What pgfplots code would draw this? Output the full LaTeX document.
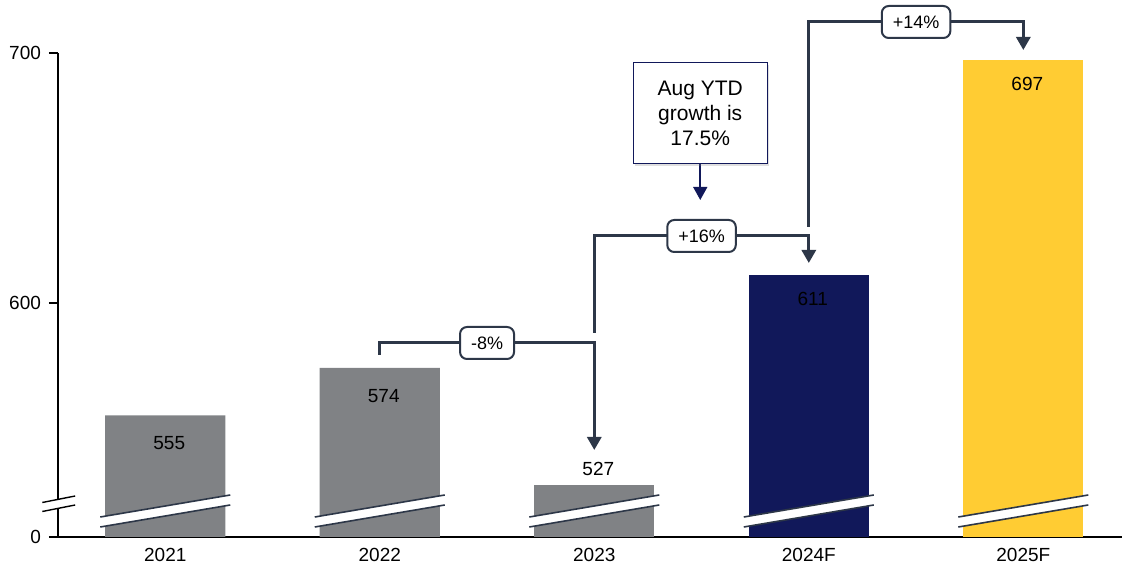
\documentclass[border=0pt]{standalone}
\usepackage{pgfplots}
\pgfplotsset{compat=1.18}
\usepackage{fontspec}
\setmainfont{Liberation Sans}
\usetikzlibrary{calc,arrows.meta,shadows}
\definecolor{bargray}{HTML}{808285}
\definecolor{navy}{HTML}{11185A}
\definecolor{gold}{HTML}{FFCC33}
\definecolor{conn}{HTML}{2D3748}
\definecolor{breakc}{HTML}{2D3748}
\begin{document}
\begin{tikzpicture}[font=\fontsize{9}{11}\selectfont]
\begin{axis}[
  scale only axis, width=532pt, height=242pt,
  xmin=-0.5, xmax=4.46, ymin=506.4, ymax=700,
  axis x line*=bottom, axis y line*=left,
  x axis line style={black, line width=1.1pt},
  y axis line style={draw=none},
  clip mode=individual,
  ybar, bar width=0.56,
  xtick={0,1,2,3,4}, xticklabels={2021,2022,2023,2024F,2025F},
  x tick style={draw=none},
  ytick={506.4,600,700}, yticklabels={0,600,700},
  y tick style={black, line width=0.8pt},
  tick align=outside, major tick length=4.5pt,
  tick label style={font=\fontsize{9.5}{11}\selectfont},
  xticklabel style={yshift=2.5pt},
  yticklabel style={xshift=-0.5pt},
  /pgf/number format/assume math mode=true,
  nodes near coords,
  nodes near coords style={anchor=center, xshift=2pt, font=\fontsize{9.5}{11}\selectfont},
]
% bars
\addplot[fill=bargray, draw=none, bar shift=0pt,
  every node near coord/.append style={yshift=-14pt}] coordinates {(0,555) (1,574)};
\addplot[fill=bargray, draw=none, bar shift=0pt,
  every node near coord/.append style={yshift=8.5pt}] coordinates {(2,527)};
\addplot[fill=navy, draw=none, bar shift=0pt,
  every node near coord/.append style={yshift=-11.5pt}] coordinates {(3,611)};
\addplot[fill=gold, draw=none, bar shift=0pt,
  every node near coord/.append style={yshift=-11.5pt}] coordinates {(4,697)};

% bar break marks
\pgfplotsinvokeforeach{0,1,2,3,4}{
  \fill[white] (axis cs:#1-0.303,514.4) -- (axis cs:#1+0.303,523.2) -- (axis cs:#1+0.303,519.2) -- (axis cs:#1-0.303,510.4) -- cycle;
  \draw[breakc, line width=0.8pt] (axis cs:#1-0.303,514.4) -- (axis cs:#1+0.303,523.2);
  \draw[breakc, line width=0.8pt] (axis cs:#1-0.303,510.4) -- (axis cs:#1+0.303,519.2);
}

% y axis line with break
\draw[black, line width=0.9pt] (axis cs:-0.5,506.4) -- (axis cs:-0.5,517.9);
\draw[black, line width=0.9pt] (axis cs:-0.5,521.2) -- (axis cs:-0.5,700);
\draw[black, line width=0.7pt] (axis cs:-0.573,516.6) -- (axis cs:-0.42,519.2);
\draw[black, line width=0.7pt] (axis cs:-0.573,520.2) -- (axis cs:-0.42,522.8);

% connectors
\draw[conn, line width=1.5pt, -{Triangle[width=7pt,length=6.5pt]}]
  (axis cs:1,579.2) -- (axis cs:1,584) -- (axis cs:2,584) -- (axis cs:2,541.2);
\node[draw=conn, line width=1pt, rounded corners=3.5pt, fill=white, inner xsep=5.5pt, minimum height=16pt]
  at (axis cs:1.5,584) {-8\%};

\draw[conn, line width=1.5pt, -{Triangle[width=7pt,length=6.5pt]}]
  (axis cs:2,588) -- (axis cs:2,626.8) -- (axis cs:3,626.8) -- (axis cs:3,616);
\node[draw=conn, line width=1pt, rounded corners=3.5pt, fill=white, inner xsep=5.5pt, minimum height=16pt]
  at (axis cs:2.5,626.8) {+16\%};

\draw[conn, line width=1.5pt, -{Triangle[width=7pt,length=6.5pt]}]
  (axis cs:3,630.4) -- (axis cs:3,712.4) -- (axis cs:4,712.4) -- (axis cs:4,701.2);
\node[draw=conn, line width=1pt, rounded corners=3.5pt, fill=white, inner xsep=5.5pt, minimum height=16pt]
  at (axis cs:3.5,712.4) {+14\%};

% Aug YTD note
\draw[navy, line width=0.8pt, -{Triangle[width=7pt,length=6.5pt]}]
  (axis cs:2.494,655.6) -- (axis cs:2.494,641.2);
\node[draw=navy, line width=0.5pt, fill=white, drop shadow={opacity=0.25, shadow xshift=0.8pt, shadow yshift=-0.8pt},
  minimum width=67pt, minimum height=50.5pt, align=center, font=\fontsize{10.5}{12.5}\selectfont]
  at (axis cs:2.494,675.8) {Aug YTD\\growth is\\17.5\%};

\coordinate (BL) at (rel axis cs:0,0);
\coordinate (TR) at (rel axis cs:1,1);
\end{axis}
\pgfresetboundingbox
\path[use as bounding box] ($(BL)+(-29pt,-15pt)$) rectangle ($(TR)+(0pt,26.5pt)$);
\end{tikzpicture}
\end{document}
